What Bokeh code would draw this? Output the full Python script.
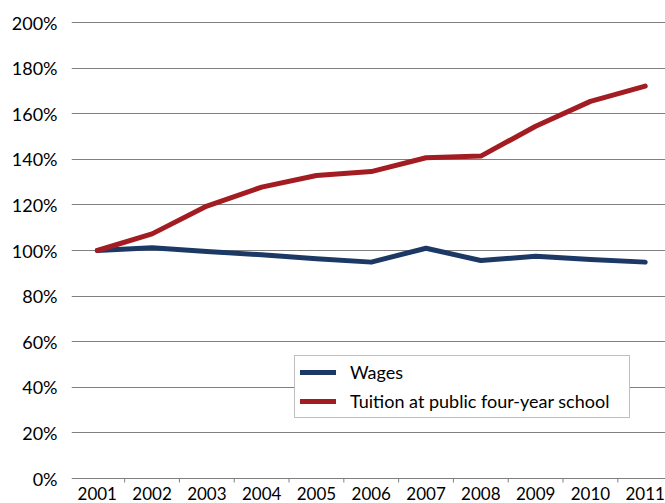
from bokeh.plotting import figure
from bokeh.models import (FixedTicker, PrintfTickFormatter, Range1d, Legend, LegendItem)
from bokeh.core.properties import value
from bokeh.embed import file_html
from bokeh.resources import INLINE

years = ["2001", "2002", "2003", "2004", "2005", "2006", "2007", "2008", "2009", "2010", "2011"]
wages = [100.0, 101.2, 99.6, 98.1, 96.4, 94.9, 101.0, 95.6, 97.5, 96.1, 94.9]
tuition = [100.0, 107.3, 119.5, 127.8, 132.9, 134.6, 140.7, 141.4, 154.5, 165.4, 172.1]
y_ticks = [0, 20, 40, 60, 80, 100, 120, 140, 160, 180, 200]

FONT = "Lato"
GRID = "#7f7f7f"
NAVY = "#1c3966"
RED = "#a31c22"

W, H = 665, 503
TOP_PX, BOTTOM_PX = 22, 25          # space above 200% line / below 0% line
PX_PER_UNIT = (H - TOP_PX - BOTTOM_PX) / 200.0

xs = list(range(len(years)))

p = figure(width=W, height=H, output_backend="svg", toolbar_location=None,
           x_range=Range1d(-0.47, 10.37),
           y_range=Range1d(-BOTTOM_PX / PX_PER_UNIT, 200 + TOP_PX / PX_PER_UNIT),
           min_border_left=71, min_border_right=0, min_border_top=0, min_border_bottom=0)
p.outline_line_color = None
p.background_fill_color = "white"
p.border_fill_color = "white"
p.xaxis.visible = False

# y axis
p.yaxis.ticker = FixedTicker(ticks=y_ticks)
p.yaxis.formatter = PrintfTickFormatter(format="%d%%")
p.yaxis.axis_line_color = None
p.yaxis.major_tick_line_color = None
p.yaxis.major_tick_out = 0
p.yaxis.major_tick_in = 0
p.yaxis.minor_tick_line_color = None
p.yaxis.major_label_standoff = 14
p.yaxis.major_label_text_font = FONT
p.yaxis.major_label_text_font_size = "18px"
p.yaxis.major_label_text_color = "black"

p.xgrid.grid_line_color = None
p.ygrid.ticker = FixedTicker(ticks=y_ticks)
p.ygrid.grid_line_color = GRID
p.ygrid.grid_line_width = 1

# tick marks at category boundaries below the 0% line
bounds = [i - 0.5 for i in range(len(years) + 1)]
p.segment(x0=bounds, y0=[0] * len(bounds), x1=bounds, y1=[-4 / PX_PER_UNIT] * len(bounds),
          line_color=GRID, line_width=1)

r_w = p.line(xs, wages, line_color=NAVY, line_width=5, line_cap="round", line_join="round")
r_t = p.line(xs, tuition, line_color=RED, line_width=5, line_cap="round", line_join="round")

# category labels
p.text(x=xs, y=[-15 / PX_PER_UNIT] * len(xs), text=years, text_align="center",
       text_baseline="middle", text_font=value(FONT), text_font_size="17px", text_color="black")

legend = Legend(items=[LegendItem(label="Wages", renderers=[r_w]),
                       LegendItem(label="Tuition at public four-year school", renderers=[r_t])],
                location=(223, 85), orientation="vertical",
                label_text_font=FONT, label_text_font_size="18px", label_text_color="black",
                glyph_width=36, glyph_height=18, label_height=18, label_width=274,
                spacing=7, padding=5, label_standoff=14, margin=0,
                border_line_color="#808080", border_line_width=1,
                background_fill_color="white", background_fill_alpha=1)
p.add_layout(legend, "center")

open("out.html", "w").write(file_html(p, INLINE))
